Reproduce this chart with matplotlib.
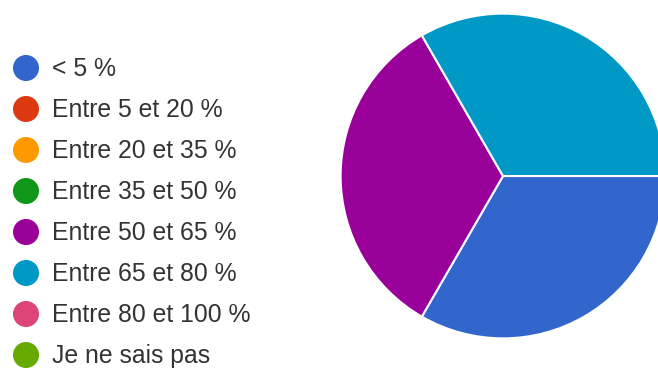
import matplotlib
matplotlib.use("Agg")
import matplotlib.pyplot as plt

# Answer categories and response counts
labels = ["< 5 %", "Entre 5 et 20 %", "Entre 20 et 35 %", "Entre 35 et 50 %",
          "Entre 50 et 65 %", "Entre 65 et 80 %", "Entre 80 et 100 %", "Je ne sais pas"]
counts = [1, 0, 0, 0, 1, 1, 0, 0]
colors = ["#3366cc", "#dc3912", "#ff9900", "#109618",
          "#990099", "#0099c6", "#dd4477", "#66aa00"]

plt.rcParams["font.family"] = ["Liberation Sans", "DejaVu Sans"]

W, H = 658, 370
fig = plt.figure(figsize=(W / 100, H / 100), dpi=100)

# pie: center (503, 176) px, radius 164 px
cx, cy, r = 503, 176, 164
ax = fig.add_axes([(cx - r) / W, (H - cy - r) / H, 2 * r / W, 2 * r / H])
nz = [(c, col) for c, col in zip(counts, colors) if c > 0]
ax.pie([c for c, _ in nz], colors=[col for _, col in nz], startangle=0,
       counterclock=False, radius=1,
       wedgeprops=dict(edgecolor="white", linewidth=1.5))
ax.set_xlim(-1.01, 1.01)
ax.set_ylim(-1.01, 1.01)
ax.set_aspect("equal")
ax.axis("off")

# legend column on the left
lax = fig.add_axes([0, 0, 1, 1])
lax.set_xlim(0, W)
lax.set_ylim(H, 0)
lax.axis("off")
y0, step = 68, 41
for i, (lab, col) in enumerate(zip(labels, colors)):
    y = y0 + i * step
    lax.scatter([26], [y], s=26 ** 2 * 0.52, color=col, edgecolors="none")
    lax.text(52, y + 1, lab, fontsize=17.8, color="#333333", va="center", ha="left")

fig.savefig("out.png", dpi=100)
